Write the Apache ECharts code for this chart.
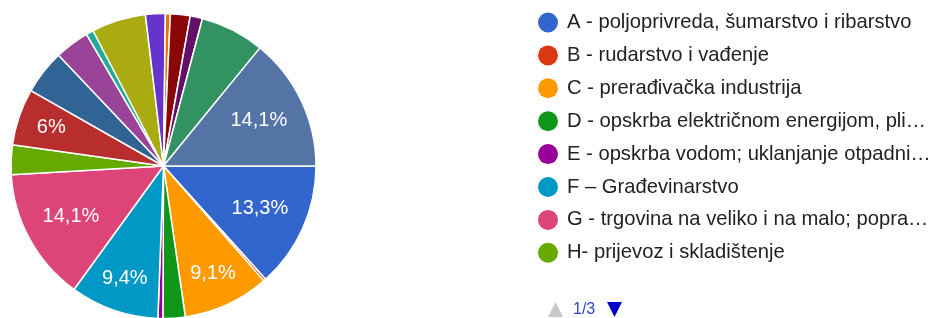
<!DOCTYPE html>
<html>
<head>
<meta charset="utf-8">
<script src="https://cdn.jsdelivr.net/npm/echarts@6/dist/echarts.min.js"></script>
<style>
html,body{margin:0;padding:0;background:#fff;}
#chart{width:939px;height:318px;}
</style>
</head>
<body>
<div id="chart"></div>
<script>
// ---- data ----
const categories = [
  "A - poljoprivreda, šumarstvo i ribarstvo",
  "B - rudarstvo i vađenje",
  "C - prerađivačka industrija",
  "D - opskrba električnom energijom, plinom, parom i klimatizacija",
  "E - opskrba vodom; uklanjanje otpadnih voda, gospodarenje otpadom te djelatnosti sanacije okoliša",
  "F – Građevinarstvo",
  "G - trgovina na veliko i na malo; popravak motornih vozila i motocikala",
  "H- prijevoz i skladištenje",
  "I - djelatnosti pružanja smještaja te pripreme i usluživanja hrane",
  "J - informacije i komunikacije",
  "K - financijske djelatnosti i djelatnosti osiguranja",
  "L - poslovanje nekretninama",
  "M - stručne, znanstvene i tehničke djelatnosti",
  "N - administrativne i pomoćne uslužne djelatnosti",
  "O - javna uprava i obrana; obvezno socijalno osiguranje",
  "P - obrazovanje",
  "Q - djelatnosti zdravstvene zaštite i socijalne skrbi",
  "R - umjetnost, zabava i rekreacija",
  "S - ostale uslužne djelatnosti"
];
// legend texts as displayed on page 1 (shortened like the original)
const legendLabels = [
  "A - poljoprivreda, šumarstvo i ribarstvo",
  "B - rudarstvo i vađenje",
  "C - prerađivačka industrija",
  "D - opskrba električnom energijom, pli…",
  "E - opskrba vodom; uklanjanje otpadni…",
  "F – Građevinarstvo",
  "G - trgovina na veliko i na malo; popra…",
  "H- prijevoz i skladištenje"
];
const responses = [51, 1, 35, 9, 2, 36, 54, 12, 23, 18, 14, 3, 22, 8, 2, 8, 5, 26, 54];
const pageText = "1/3";

// ---- style config ----
const palette = ["#3366cc","#dc3912","#ff9900","#109618","#990099","#0099c6","#dd4477","#66aa00",
  "#b82e2e","#316395","#994499","#22aa99","#aaaa11","#6633cc","#e67300","#8b0707","#651067","#329262","#5574a6"];
const outerRingLabels = new Set([0, 6, 18]);   // labels on the wider ring
const innerRingLabels = new Set([2, 5, 8]);    // labels placed further out
const FONT = '"Liberation Sans", Arial, sans-serif';

const total = responses.reduce((a, b) => a + b, 0);
function pct(v) {
  const p = Math.round(v / total * 1000) / 10;
  return String(p).replace('.', ',') + '%';
}

const baseData = categories.map((n, i) => ({ name: n, value: responses[i] }));
function labelData(set) {
  return categories.map((n, i) => ({ name: n, value: responses[i], label: { show: set.has(i) } }));
}

const center = [163.5, 166];
const labelSeries = (r0, set) => ({
  type: 'pie',
  center: center,
  radius: [r0, 152.5],
  startAngle: 0,
  clockwise: true,
  silent: true,
  z: 5,
  animation: false,
  avoidLabelOverlap: false,
  itemStyle: { color: 'rgba(0,0,0,0)', borderWidth: 0 },
  label: {
    position: 'inside',
    color: '#fff',
    fontSize: 20,
    fontFamily: FONT,
    formatter: (p) => pct(p.value)
  },
  labelLine: { show: false },
  emphasis: { disabled: true },
  data: labelData(set)
});

const chart = echarts.init(document.getElementById('chart'), null, { renderer: 'canvas' });
chart.setOption({
  backgroundColor: '#fff',
  color: palette,
  animation: false,
  legend: {
    type: 'plain',
    orient: 'vertical',
    left: 538,
    top: 12.5,
    padding: 0,
    data: categories.slice(0, legendLabels.length),
    formatter: (name) => legendLabels[categories.indexOf(name)],
    icon: 'circle',
    itemWidth: 28,
    itemHeight: 20,
    itemGap: 12.9,
    selectedMode: false,
    itemStyle: { borderWidth: 0 },
    textStyle: {
      fontFamily: FONT,
      fontSize: 20.2,
      lineHeight: 20,
      color: '#222'
    }
  },
  graphic: [
    { type: 'polygon', shape: { points: [[548, 317], [563, 317], [555.5, 302]] }, style: { fill: '#c8c8c8' } },
    { type: 'text', left: 573, top: 302, style: { text: pageText, fill: '#3344cc', font: '16px "Liberation Sans", Arial' } },
    { type: 'polygon', shape: { points: [[607, 302], [622, 302], [614.5, 317]] }, style: { fill: '#0000cc' } }
  ],
  series: [
    {
      type: 'pie',
      center: center,
      radius: 152.5,
      startAngle: 0,
      clockwise: true,
      animation: false,
      avoidLabelOverlap: false,
      itemStyle: { borderColor: '#fff', borderWidth: 1.5 },
      label: { show: false },
      labelLine: { show: false },
      emphasis: { disabled: true },
      data: baseData
    },
    labelSeries(52.5, outerRingLabels),
    labelSeries(78.5, innerRingLabels)
  ]
});
</script>
</body>
</html>
